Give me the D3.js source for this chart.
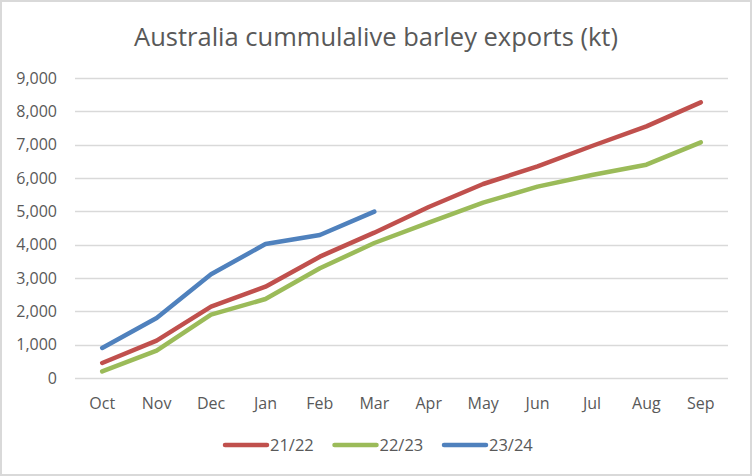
<!DOCTYPE html>
<html>
<head>
<meta charset="utf-8">
<script src="https://cdn.jsdelivr.net/npm/d3@7"></script>
<style>
  body { margin: 0; background: #fff; }
  svg { display: block; font-family: "Open Sans", "Noto Sans", sans-serif; }
</style>
</head>
<body>
<script>
// chart data
var months = ["Oct", "Nov", "Dec", "Jan", "Feb", "Mar", "Apr", "May", "Jun", "Jul", "Aug", "Sep"]
var season2122 = [450, 1120, 2140, 2740, 3640, 4360, 5130, 5820, 6350, 6960, 7550, 8270]
var season2223 = [200, 820, 1900, 2370, 3290, 4050, 4660, 5260, 5740, 6090, 6400, 7070]
var season2324 = [900, 1800, 3110, 4020, 4290, 4990]
var seriesNames = ["21/22", "22/23", "23/24"]
var yTicks = [0, 1000, 2000, 3000, 4000, 5000, 6000, 7000, 8000, 9000]

var colors = ["#C0504D", "#9BBB59", "#4F81BD"]
var allSeries = [season2122, season2223, season2324]

var width = 752
var height = 476
var margin = { top: 78, right: 24, bottom: 98, left: 75 }

var svg = d3.select("body")
    .append("svg")
    .attr("width", width)
    .attr("height", height)

// outer border
svg.append("rect")
    .attr("x", 1).attr("y", 1)
    .attr("width", width - 2).attr("height", height - 2)
    .attr("fill", "#fff")
    .attr("stroke", "#D9D9D9")
    .attr("stroke-width", 2)

var xScale = d3.scaleBand()
    .domain(months)
    .range([margin.left, width - margin.right])

var yScale = d3.scaleLinear()
    .domain([0, 9000])
    .range([height - margin.bottom, margin.top])

// gridlines
svg.append("g")
    .selectAll("line")
    .data(yTicks)
    .enter()
    .append("line")
    .attr("x1", margin.left)
    .attr("x2", width - margin.right)
    .attr("y1", d => Math.round(yScale(d)) + 0.5)
    .attr("y2", d => Math.round(yScale(d)) + 0.5)
    .attr("stroke", "#D9D9D9")
    .attr("stroke-width", 1.3)

// y axis labels
var yAxis = d3.axisLeft(yScale)
    .tickValues(yTicks)
    .tickFormat(d3.format(","))
    .tickSize(0)
    .tickPadding(18)

svg.append("g")
    .attr("transform", "translate(" + margin.left + ",0)")
    .call(yAxis)
    .call(g => g.select(".domain").remove())
    .selectAll("text")
    .attr("fill", "#595959")
    .attr("font-size", "16px")
    .attr("font-family", "Open Sans, sans-serif")

// x axis labels
var xAxis = d3.axisBottom(xScale)
    .tickSize(0)
    .tickPadding(20)

svg.append("g")
    .attr("transform", "translate(0," + (height - margin.bottom) + ")")
    .call(xAxis)
    .call(g => g.select(".domain").remove())
    .selectAll("text")
    .attr("fill", "#595959")
    .attr("font-size", "16px")
    .attr("font-family", "Open Sans, sans-serif")

// lines
var line = d3.line()
    .x((d, i) => xScale(months[i]) + xScale.bandwidth() / 2)
    .y(d => yScale(d))

svg.append("g")
    .selectAll("path")
    .data(allSeries)
    .enter()
    .append("path")
    .attr("d", d => line(d))
    .attr("fill", "none")
    .attr("stroke", (d, i) => colors[i])
    .attr("stroke-width", 4.5)
    .attr("stroke-linecap", "round")
    .attr("stroke-linejoin", "round")

// title
svg.append("text")
    .attr("x", width / 2)
    .attr("y", 46)
    .attr("text-anchor", "middle")
    .attr("fill", "#595959")
    .attr("font-size", "25.5px")
    .text("Australia cummulalive barley exports (kt)")

// legend
var legend = svg.append("g")
    .selectAll("g")
    .data(seriesNames)
    .enter()
    .append("g")
    .attr("transform", (d, i) => "translate(" + (225 + i * 109.5) + ",445)")

legend.append("line")
    .attr("x1", 0).attr("x2", 42)
    .attr("y1", 0).attr("y2", 0)
    .attr("stroke", (d, i) => colors[i])
    .attr("stroke-width", 4.5)
    .attr("stroke-linecap", "round")

legend.append("text")
    .attr("x", 45)
    .attr("y", 6)
    .attr("fill", "#595959")
    .attr("font-size", "16.5px")
    .text(d => d)
</script>
</body>
</html>
